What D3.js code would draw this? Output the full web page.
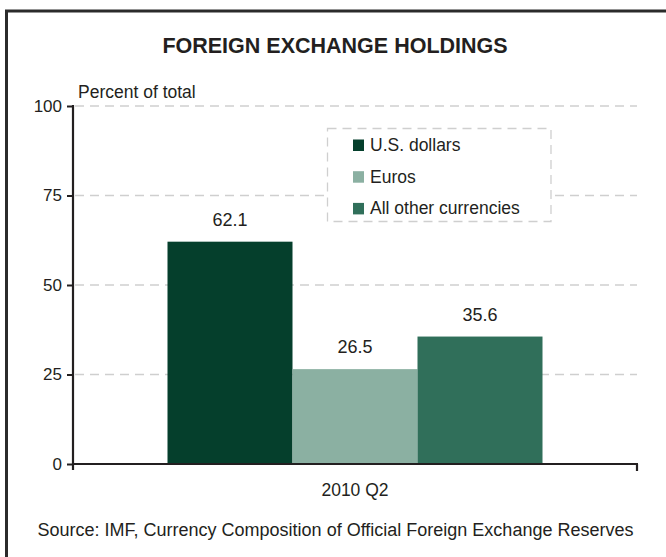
<!DOCTYPE html>
<html>
<head>
<meta charset="utf-8">
<script src="https://cdn.jsdelivr.net/npm/d3@7"></script>
<style>
  html, body { margin: 0; padding: 0; background: #fff; }
  svg { display: block; font-family: "Liberation Sans", Arial, sans-serif; }
</style>
</head>
<body>
<svg id="chart" width="666" height="557"></svg>
<script>
const categories = ["2010 Q2"];
const seriesNames = ["U.S. dollars", "Euros", "All other currencies"];
const seriesValues = [62.1, 26.5, 35.6];
const seriesColors = ["#053f2c", "#8bb0a2", "#306f5a"];
const yTicks = [0, 25, 50, 75, 100];

const svg = d3.select("#chart");
const W = 666, H = 557;
const margin = { left: 73, right: 29, top: 106, bottom: 93 };

// frame (top & left visible)
svg.append("rect")
  .attr("x", 6.5).attr("y", 11)
  .attr("width", W + 20).attr("height", H + 20)
  .attr("fill", "none").attr("stroke", "#2b2b2b").attr("stroke-width", 3);

const x0 = d3.scaleBand().domain(categories)
  .range([margin.left, W - margin.right])
  .paddingInner(0).paddingOuter(0.252);
const x1 = d3.scaleBand().domain(seriesNames)
  .range([0, x0.bandwidth()]).padding(0);
const y = d3.scaleLinear().domain([0, 100]).range([H - margin.bottom, margin.top]);

// title
svg.append("text")
  .attr("x", 335).attr("y", 53)
  .attr("text-anchor", "middle")
  .attr("font-weight", "bold").attr("font-size", 21.5)
  .attr("fill", "#231f20")
  .text("FOREIGN EXCHANGE HOLDINGS");

// y label
svg.append("text")
  .attr("x", 78).attr("y", 98)
  .attr("font-size", 17.5).attr("fill", "#231f20")
  .text("Percent of total");

// gridlines
svg.append("g").selectAll("line")
  .data(yTicks.filter(d => d > 0))
  .join("line")
  .attr("x1", margin.left + 2).attr("x2", W - margin.right)
  .attr("y1", d => y(d)).attr("y2", d => y(d))
  .attr("stroke", "#cfcfcf").attr("stroke-width", 1.3)
  .attr("stroke-dasharray", "9,6");

// bars
const g = svg.append("g");
g.selectAll("rect")
  .data(seriesNames.map((s, i) => ({ s, v: seriesValues[i], c: seriesColors[i], cat: categories[0] })))
  .join("rect")
  .attr("x", d => x0(d.cat) + x1(d.s))
  .attr("y", d => y(d.v))
  .attr("width", x1.bandwidth())
  .attr("height", d => y(0) - y(d.v))
  .attr("fill", d => d.c);

g.selectAll("text.val")
  .data(seriesNames.map((s, i) => ({ s, v: seriesValues[i], cat: categories[0] })))
  .join("text")
  .attr("class", "val")
  .attr("x", d => x0(d.cat) + x1(d.s) + x1.bandwidth() / 2)
  .attr("y", d => y(d.v) - 16)
  .attr("text-anchor", "middle")
  .attr("font-size", 18).attr("fill", "#231f20")
  .text(d => d.v.toFixed(1));

// y axis
const yAxis = d3.axisLeft(y).tickValues(yTicks).tickSize(6).tickPadding(5);
const ya = svg.append("g").attr("transform", `translate(${margin.left},0)`).call(yAxis);
ya.select(".domain").remove();
ya.selectAll(".tick line").attr("stroke", "#231f20").attr("stroke-width", 2);
ya.selectAll(".tick text").attr("font-size", 17).attr("fill", "#231f20")
  .attr("font-family", "Liberation Sans, Arial, sans-serif");
svg.append("line")
  .attr("x1", margin.left).attr("x2", margin.left)
  .attr("y1", y(100) - 1).attr("y2", y(0) + 6)
  .attr("stroke", "#231f20").attr("stroke-width", 2.2);

// x axis
svg.append("line")
  .attr("x1", margin.left).attr("x2", W - margin.right + 1)
  .attr("y1", y(0)).attr("y2", y(0))
  .attr("stroke", "#231f20").attr("stroke-width", 2.2);
svg.append("line")
  .attr("x1", W - margin.right).attr("x2", W - margin.right)
  .attr("y1", y(0)).attr("y2", y(0) + 7)
  .attr("stroke", "#231f20").attr("stroke-width", 2.2);

svg.append("g").selectAll("text")
  .data(categories).join("text")
  .attr("x", d => x0(d) + x0.bandwidth() / 2)
  .attr("y", 496)
  .attr("text-anchor", "middle")
  .attr("font-size", 17.5).attr("fill", "#231f20")
  .text(d => d);

// legend
const lg = svg.append("g");
lg.append("rect")
  .attr("x", 327.5).attr("y", 128.5).attr("width", 223.5).attr("height", 93)
  .attr("fill", "#fff").attr("stroke", "#cfcfcf").attr("stroke-width", 1.3)
  .attr("stroke-dasharray", "9,6");
const items = lg.selectAll("g.item")
  .data(seriesNames.map((s, i) => ({ s, c: seriesColors[i], i })))
  .join("g").attr("class", "item")
  .attr("transform", d => `translate(353,${139.5 + d.i * 31.7})`);
items.append("rect").attr("width", 11).attr("height", 11.5).attr("fill", d => d.c);
items.append("text").attr("x", 17).attr("y", 11.3)
  .attr("font-size", 17.5).attr("fill", "#231f20")
  .text(d => d.s);

// source
svg.append("text")
  .attr("x", 335.5).attr("y", 536)
  .attr("text-anchor", "middle")
  .attr("font-size", 18).attr("fill", "#231f20")
  .text("Source: IMF, Currency Composition of Official Foreign Exchange Reserves");
</script>
</body>
</html>
